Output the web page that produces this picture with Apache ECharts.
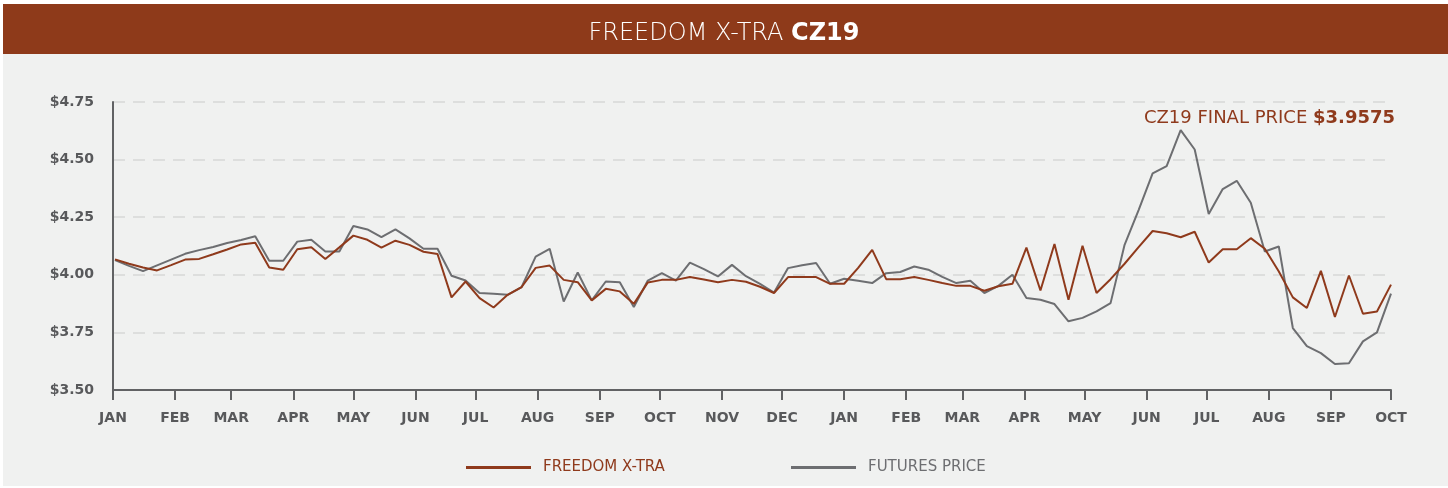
<!DOCTYPE html>
<html>
<head>
<meta charset="utf-8">
<title>Freedom X-tra CZ19</title>
<script src="https://cdn.jsdelivr.net/npm/echarts@6/dist/echarts.min.js"></script>
<style>
html, body { margin: 0; padding: 0; background: #fff; }
#main { width: 1448px; height: 488px; }
</style>
</head>
<body>
<div id="main"></div>
<script>
// weekly observation dates
var weeks = [
  '2018-01-02','2018-01-09','2018-01-16','2018-01-23','2018-01-30','2018-02-06','2018-02-13','2018-02-20','2018-02-27',
  '2018-03-06','2018-03-13','2018-03-20','2018-03-27','2018-04-03','2018-04-10','2018-04-17','2018-04-24','2018-05-01',
  '2018-05-08','2018-05-15','2018-05-22','2018-05-29','2018-06-05','2018-06-12','2018-06-19','2018-06-26','2018-07-03',
  '2018-07-10','2018-07-17','2018-07-24','2018-07-31','2018-08-07','2018-08-14','2018-08-21','2018-08-28','2018-09-04',
  '2018-09-11','2018-09-18','2018-09-25','2018-10-02','2018-10-09','2018-10-16','2018-10-23','2018-10-30','2018-11-06',
  '2018-11-13','2018-11-20','2018-11-27','2018-12-04','2018-12-11','2018-12-18','2018-12-25','2019-01-01','2019-01-08',
  '2019-01-15','2019-01-22','2019-01-29','2019-02-05','2019-02-12','2019-02-19','2019-02-26','2019-03-05','2019-03-12',
  '2019-03-19','2019-03-26','2019-04-02','2019-04-09','2019-04-16','2019-04-23','2019-04-30','2019-05-07','2019-05-14',
  '2019-05-21','2019-05-28','2019-06-04','2019-06-11','2019-06-18','2019-06-25','2019-07-02','2019-07-09','2019-07-16',
  '2019-07-23','2019-07-30','2019-08-06','2019-08-13','2019-08-20','2019-08-27','2019-09-03','2019-09-10','2019-09-17',
  '2019-09-24','2019-10-01'
];

var freedomXtra = [
  4.067, 4.048, 4.032, 4.019, 4.042, 4.066, 4.069, 4.089, 4.110,
  4.132, 4.139, 4.032, 4.022, 4.111, 4.120, 4.069, 4.119, 4.170,
  4.152, 4.118, 4.148, 4.130, 4.100, 4.090, 3.902, 3.971, 3.899,
  3.858, 3.913, 3.947, 4.030, 4.040, 3.978, 3.968, 3.889, 3.939,
  3.928, 3.874, 3.967, 3.978, 3.978, 3.990, 3.980, 3.968, 3.978,
  3.970, 3.948, 3.921, 3.990, 3.990, 3.990, 3.961, 3.961, 4.030,
  4.108, 3.981, 3.981, 3.990, 3.978, 3.964, 3.952, 3.952, 3.931,
  3.950, 3.961, 4.118, 3.932, 4.134, 3.892, 4.126, 3.921, 3.981,
  4.048, 4.120, 4.190, 4.180, 4.163, 4.187, 4.053, 4.111, 4.111,
  4.159, 4.113, 4.014, 3.902, 3.856, 4.017, 3.817, 3.997, 3.831,
  3.841, 3.9575
];

var futuresPrice = [
  4.064, 4.039, 4.016, 4.041, 4.066, 4.091, 4.107, 4.121, 4.138,
  4.151, 4.167, 4.061, 4.061, 4.144, 4.152, 4.101, 4.101, 4.212,
  4.197, 4.163, 4.197, 4.158, 4.113, 4.113, 3.996, 3.975, 3.921,
  3.918, 3.913, 3.947, 4.079, 4.113, 3.884, 4.010, 3.889, 3.971,
  3.968, 3.860, 3.975, 4.007, 3.975, 4.053, 4.025, 3.993, 4.043,
  3.994, 3.961, 3.923, 4.029, 4.041, 4.051, 3.961, 3.983, 3.974,
  3.964, 4.007, 4.012, 4.036, 4.022, 3.991, 3.964, 3.974, 3.921,
  3.952, 4.000, 3.899, 3.892, 3.873, 3.798, 3.813, 3.841, 3.877,
  4.130, 4.281, 4.440, 4.472, 4.628, 4.544, 4.264, 4.372, 4.408,
  4.313, 4.101, 4.123, 3.769, 3.690, 3.660, 3.613, 3.616, 3.711,
  3.750, 3.918
];

// month tick labels, Jan 2018 .. Oct 2019
var monthLabels = ['JAN','FEB','MAR','APR','MAY','JUN','JUL','AUG','SEP','OCT','NOV','DEC',
                   'JAN','FEB','MAR','APR','MAY','JUN','JUL','AUG','SEP','OCT'];

var RED = '#8f3a1c';
var GRAY = '#6d6e71';
var AXIS = '#616264';
var FONT = 'DejaVu Sans';
var DAY = 24 * 3600 * 1000;

function pairs(vals) {
  return weeks.map(function (d, i) { return [d, vals[i]]; });
}

var myChart = echarts.init(document.getElementById('main'));

var option = {
  animation: false,
  textStyle: { fontFamily: FONT },
  graphic: [
    { type: 'rect', z: -10, shape: { x: 3, y: 4, width: 1445, height: 482 }, style: { fill: '#f0f1f0' } },
    { type: 'rect', z: -9, shape: { x: 3, y: 4, width: 1445, height: 50 }, style: { fill: '#8e3a1a' } }
  ],
  title: [
    {
      text: '{l|FREEDOM X-TRA }{b|CZ19}',
      left: 'center',
      top: 17,
      textStyle: {
        rich: {
          l: { color: '#fff', fontSize: 24, fontWeight: 300, fontFamily: FONT },
          b: { color: '#fff', fontSize: 24, fontWeight: 'bold', fontFamily: FONT }
        }
      }
    },
    {
      text: '{l|CZ19 FINAL PRICE }{b|$3.9575}',
      right: 48,
      top: 104,
      textStyle: {
        rich: {
          l: { color: RED, fontSize: 18, fontWeight: 'normal', fontFamily: FONT },
          b: { color: RED, fontSize: 18, fontWeight: 'bold', fontFamily: FONT }
        }
      }
    }
  ],
  legend: [
    {
      data: ['FREEDOM X-TRA'],
      left: 461, top: 455,
      icon: 'rect', itemWidth: 65, itemHeight: 3,
      textStyle: { color: RED, fontSize: 15, fontWeight: 'normal', padding: [0, 0, 0, 7] }
    },
    {
      data: ['FUTURES PRICE'],
      left: 786, top: 455,
      icon: 'rect', itemWidth: 65, itemHeight: 3,
      textStyle: { color: GRAY, fontSize: 15, fontWeight: 'normal', padding: [0, 0, 0, 7] }
    }
  ],
  grid: { left: 113, right: 57, top: 102, bottom: 98, containLabel: false },
  xAxis: {
    type: 'time',
    min: '2018-01-01',
    max: '2019-10-01',
    minInterval: 28 * DAY,
    maxInterval: 31 * DAY,
    axisLine: { lineStyle: { color: AXIS, width: 2 } },
    axisTick: { show: true, length: 10, lineStyle: { color: AXIS, width: 2 } },
    minorTick: { show: false },
    axisLabel: {
      color: '#58595b', fontSize: 14, fontWeight: 'bold', margin: 21,
      showMinLabel: true, showMaxLabel: true, hideOverlap: false,
      formatter: function (value) {
        var d = new Date(value);
        return monthLabels[(d.getFullYear() - 2018) * 12 + d.getMonth()] || '';
      }
    },
    splitLine: { show: false }
  },
  yAxis: {
    type: 'value',
    min: 3.5,
    max: 4.75,
    interval: 0.25,
    axisLine: { show: true, lineStyle: { color: AXIS, width: 2 } },
    axisTick: { show: false },
    axisLabel: {
      color: '#58595b', fontSize: 14, fontWeight: 'bold', margin: 19,
      formatter: function (v) { return '$' + v.toFixed(2); }
    },
    splitLine: { show: true, lineStyle: { color: '#d6d7d6', width: 1.5, type: [12, 8] } }
  },
  series: [
    {
      name: 'FUTURES PRICE',
      type: 'line',
      data: pairs(futuresPrice),
      symbol: 'none',
      lineStyle: { color: GRAY, width: 2 },
      itemStyle: { color: GRAY }
    },
    {
      name: 'FREEDOM X-TRA',
      type: 'line',
      data: pairs(freedomXtra),
      symbol: 'none',
      lineStyle: { color: RED, width: 2 },
      itemStyle: { color: RED }
    }
  ]
};

myChart.setOption(option);
window.onresize = myChart.resize;
</script>
</body>
</html>
